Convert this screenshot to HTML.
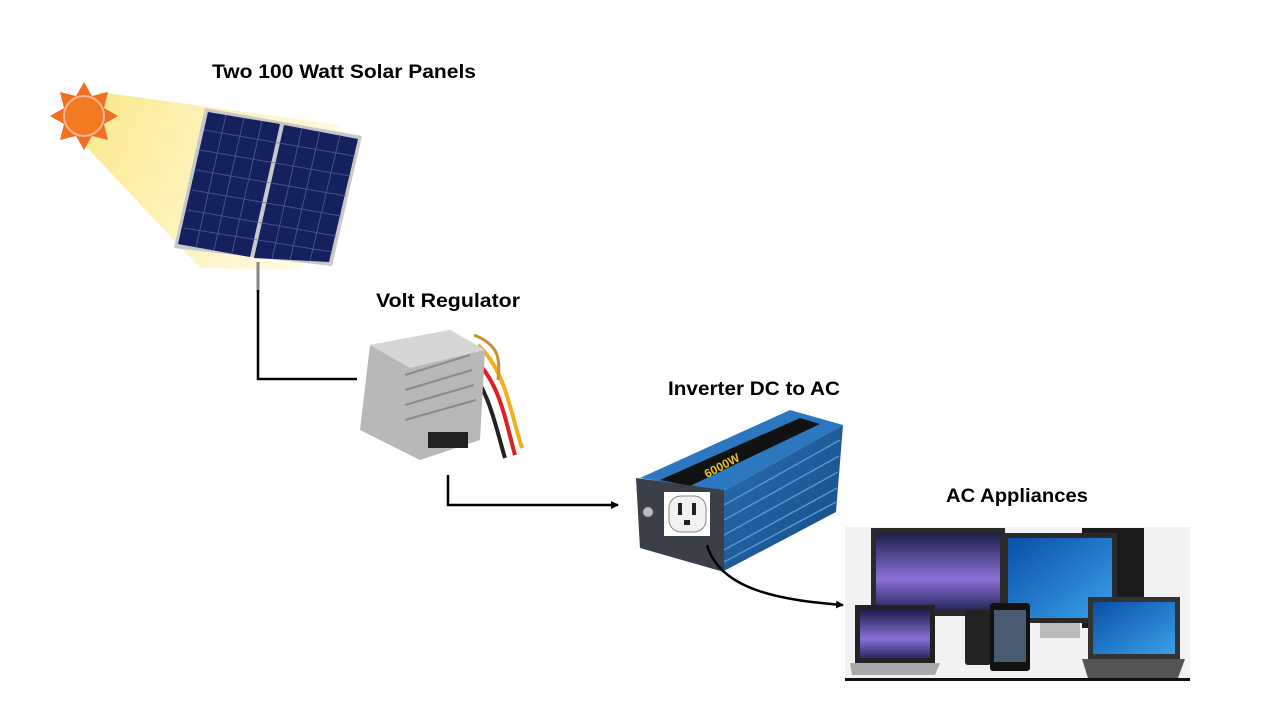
<!DOCTYPE html>
<html><head><meta charset="utf-8"><style>html,body{margin:0;padding:0;background:#fff}svg{display:block}</style></head>
<body>
<svg width="1280" height="720" viewBox="0 0 1280 720" xmlns="http://www.w3.org/2000/svg" font-family="Liberation Sans, sans-serif" font-weight="bold" font-size="19">
<defs>
<linearGradient id="beam" x1="0" y1="0" x2="1" y2="0.3"><stop offset="0" stop-color="#fbe98a"/><stop offset="1" stop-color="#fffbe6"/></linearGradient>
<linearGradient id="blue" x1="0" y1="0" x2="1" y2="1"><stop offset="0" stop-color="#2a6db0"/><stop offset="1" stop-color="#174a85"/></linearGradient>
<linearGradient id="scr1" x1="0" y1="0" x2="0" y2="1"><stop offset="0" stop-color="#1b1f4a"/><stop offset="0.6" stop-color="#8a6fd8"/><stop offset="1" stop-color="#2a2a60"/></linearGradient>
<linearGradient id="scr2" x1="0" y1="0" x2="1" y2="1"><stop offset="0" stop-color="#0a4fa8"/><stop offset="1" stop-color="#3aa0e8"/></linearGradient>
<marker id="ah" markerWidth="8" markerHeight="8" refX="7" refY="4" orient="auto" markerUnits="userSpaceOnUse"><path d="M0,0 L8,4 L0,8z" fill="#000"/></marker>
</defs>
<!-- labels -->
<text x="212" y="78" textLength="264" lengthAdjust="spacingAndGlyphs">Two 100 Watt Solar Panels</text>
<text x="376" y="307" textLength="144" lengthAdjust="spacingAndGlyphs">Volt Regulator</text>
<text x="668" y="395" textLength="172" lengthAdjust="spacingAndGlyphs">Inverter DC to AC</text>
<text x="946" y="502" textLength="142" lengthAdjust="spacingAndGlyphs">AC Appliances</text>
<!-- beam -->
<polygon points="100,92 340,125 350,180 300,270 200,268 80,140" fill="url(#beam)"/>
<!-- sun -->
<g transform="translate(84,116)">
<polygon fill="#f36f21" points="0,-34 8,-20 24,-24 20,-8 34,0 20,8 24,24 8,20 0,34 -8,20 -24,24 -20,8 -34,0 -20,-8 -24,-24 -8,-20"/>
<circle r="20" fill="#f47a1f" stroke="#f9b59a" stroke-width="2"/>
</g>
<!-- solar panel -->
<polygon points="205,108 362,136 332,266 174,248" fill="#c8c8c8"/>
<polygon points="208,112 280,124 250,257 178,244" fill="#15205e"/>
<polygon points="284,125 358,139 329,262 254,258" fill="#15205e"/>
<g stroke="#5a6aa0" stroke-width="1" opacity="0.7">
<line x1="204" y1="130" x2="354" y2="156"/><line x1="200" y1="150" x2="350" y2="176"/><line x1="196" y1="170" x2="346" y2="196"/><line x1="192" y1="190" x2="341" y2="216"/><line x1="188" y1="210" x2="336" y2="236"/><line x1="184" y1="228" x2="332" y2="252"/>
<line x1="226" y1="115" x2="196" y2="247"/><line x1="244" y1="118" x2="214" y2="250"/><line x1="262" y1="121" x2="232" y2="253"/>
<line x1="302" y1="128" x2="272" y2="259"/><line x1="320" y1="131" x2="290" y2="260"/><line x1="340" y1="135" x2="310" y2="261"/>
</g>
<line x1="258" y1="262" x2="258" y2="292" stroke="#888" stroke-width="3"/>
<!-- connector 1 -->
<polyline points="258,290 258,379 357,379" fill="none" stroke="#000" stroke-width="2.5"/>
<!-- regulator -->
<path d="M470,355 C500,380 505,420 515,455" stroke="#e02020" stroke-width="4" fill="none"/>
<path d="M478,345 C505,370 510,410 522,448" stroke="#f0b020" stroke-width="4" fill="none"/>
<path d="M462,358 C490,390 495,425 505,458" stroke="#222" stroke-width="4" fill="none"/>
<path d="M474,335 C500,345 500,360 498,380" stroke="#c89030" stroke-width="3" fill="none"/>
<polygon points="370,345 450,330 485,350 480,440 420,460 360,430" fill="#b8b8b8"/>
<polygon points="370,345 450,330 485,350 410,368" fill="#d6d6d6"/>
<g stroke="#8a8a8a" stroke-width="2"><line x1="405" y1="375" x2="470" y2="355"/><line x1="405" y1="390" x2="472" y2="370"/><line x1="405" y1="405" x2="474" y2="385"/><line x1="405" y1="420" x2="476" y2="400"/></g>
<rect x="428" y="432" width="40" height="16" fill="#222"/>
<!-- connector 2 -->
<polyline points="448,475 448,505 618,505" fill="none" stroke="#000" stroke-width="2.5" marker-end="url(#ah)"/>
<!-- inverter -->
<polygon points="640,478 790,410 843,425 722,492" fill="#2c78c0"/>
<polygon points="722,492 843,425 836,512 722,572" fill="url(#blue)"/>
<polygon points="660,480 800,418 820,424 690,486" fill="#111"/>
<text x="700" y="470" font-size="12" fill="#e8c020" transform="rotate(-28 720 460)">6000W</text>
<g stroke="#5aa8e8" stroke-width="1.5" opacity="0.8"><line x1="724" y1="505" x2="840" y2="440"/><line x1="724" y1="520" x2="839" y2="456"/><line x1="724" y1="535" x2="838" y2="472"/><line x1="724" y1="550" x2="837" y2="488"/><line x1="724" y1="562" x2="836" y2="502"/></g>
<polygon points="636,478 724,490 724,572 640,548" fill="#3a3f48"/>
<rect x="664" y="492" width="46" height="44" fill="#fff"/>
<rect x="669" y="496" width="37" height="36" rx="12" fill="#f2f2f2" stroke="#888"/>
<rect x="678" y="503" width="4" height="12" fill="#222"/><rect x="692" y="503" width="4" height="12" fill="#222"/><rect x="684" y="520" width="6" height="5" fill="#222"/>
<circle cx="648" cy="512" r="5" fill="#bbb"/>
<!-- connector 3 -->
<path d="M707,545 C720,590 780,600 843,605" fill="none" stroke="#000" stroke-width="2.5" marker-end="url(#ah)"/>
<!-- appliances -->
<rect x="845" y="527" width="345" height="153" fill="#f2f2f2"/>
<rect x="845" y="678" width="345" height="3" fill="#111"/>
<rect x="1082" y="528" width="62" height="100" fill="#1a1a1a"/>
<rect x="871" y="528" width="134" height="88" fill="#2a2a2a"/>
<rect x="876" y="533" width="124" height="76" fill="url(#scr1)"/>
<rect x="1003" y="533" width="114" height="90" fill="#2a2a2a"/>
<rect x="1008" y="538" width="104" height="80" fill="url(#scr2)"/>
<rect x="1040" y="623" width="40" height="15" fill="#bbb"/>
<rect x="855" y="605" width="80" height="58" fill="#222"/>
<rect x="860" y="610" width="70" height="48" fill="url(#scr1)"/>
<polygon points="850,663 940,663 935,675 852,675" fill="#aaa"/>
<rect x="965" y="610" width="26" height="55" rx="3" fill="#222"/>
<rect x="990" y="603" width="40" height="68" rx="3" fill="#111"/>
<rect x="994" y="610" width="32" height="52" fill="#4a5a70"/>
<rect x="1088" y="597" width="92" height="62" fill="#333"/>
<rect x="1093" y="602" width="82" height="52" fill="url(#scr2)"/>
<polygon points="1082,659 1185,659 1178,678 1088,678" fill="#555"/>
</svg>
</body></html>
